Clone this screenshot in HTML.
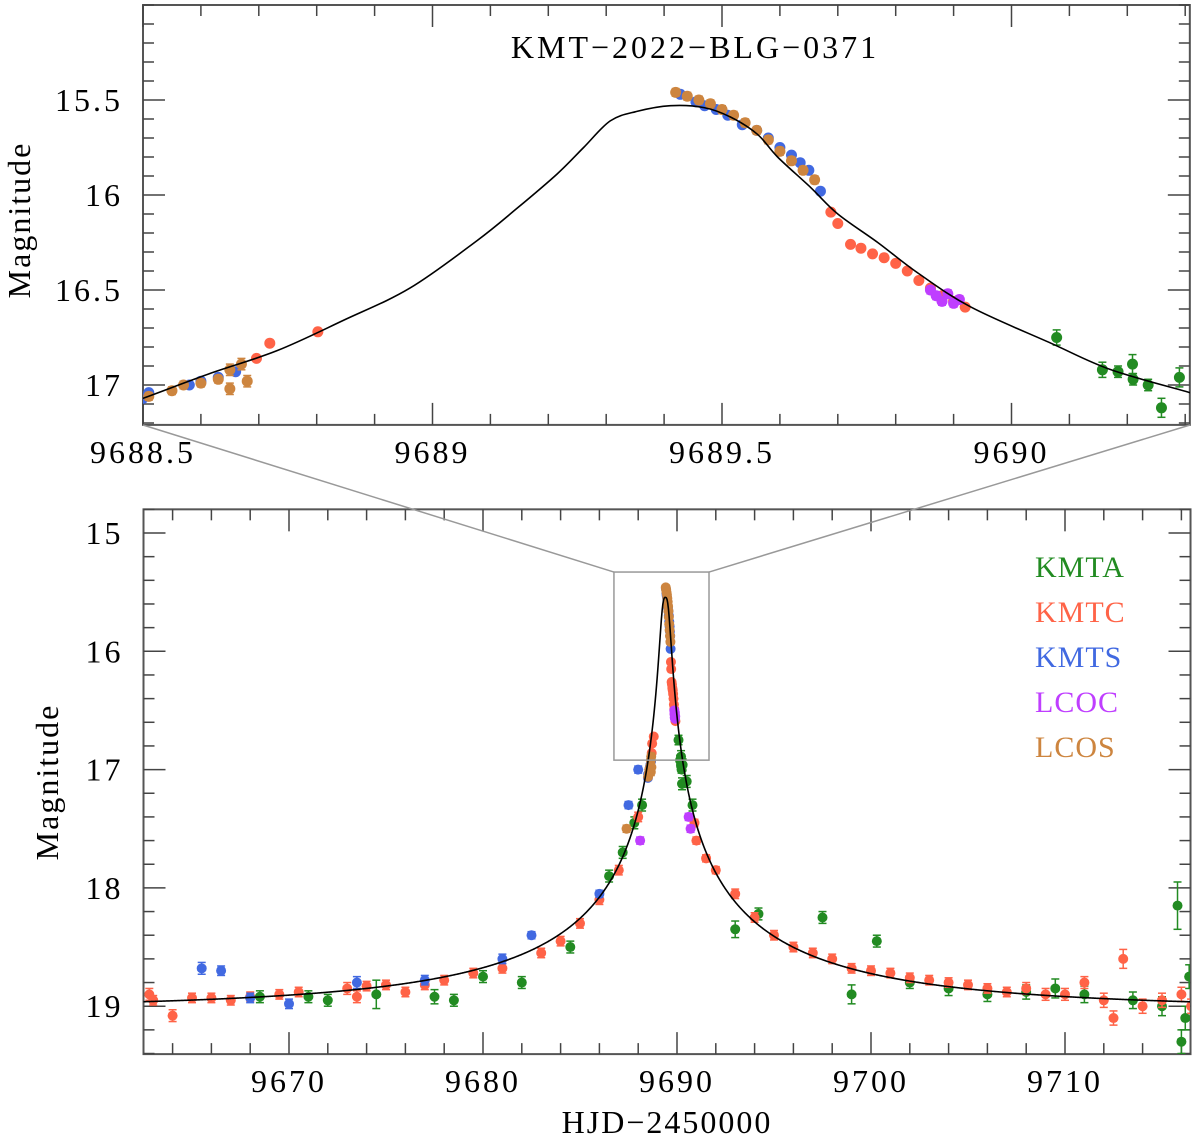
<!DOCTYPE html>
<html><head><meta charset="utf-8"><style>
html,body{margin:0;padding:0;background:#fff;}
svg{display:block;font-family:"Liberation Serif","DejaVu Serif",serif;}
</style></head><body>
<svg id="chart" width="1200" height="1140" viewBox="0 0 1200 1140" xmlns="http://www.w3.org/2000/svg">
<defs>
<clipPath id="clipTop"><rect x="143" y="5" width="1047" height="420"/></clipPath>
<clipPath id="clipBot"><rect x="143" y="509" width="1047" height="545"/></clipPath>
</defs>
<g id="top"></g>
<g id="bot"></g>
<text x="695" y="58" font-size="32" letter-spacing="3" text-anchor="middle">KMT−2022−BLG−0371</text>
<text transform="translate(30,220) rotate(-90)" font-size="32" letter-spacing="2" text-anchor="middle">Magnitude</text>
<text transform="translate(58,782) rotate(-90)" font-size="32" letter-spacing="2" text-anchor="middle">Magnitude</text>
<text x="667" y="1133" font-size="32" letter-spacing="2" text-anchor="middle">HJD−2450000</text>
</svg>
<script>
// model parameters (full view): t0, tE, rho, fs, baseline
const modelParams=[9689.40,22,0.0105,0.25,19.02];
// model curve samples
const topModelT=[9688.45,9688.5,9688.615,9688.731,9688.846,9688.961,9689.077,9689.146,9689.215,9689.261,9689.307,9689.353,9689.411,9689.469,9689.515,9689.561,9689.596,9689.653,9689.700,9689.769,9689.838,9689.930,9690.068,9690.172,9690.308,9690.36];
const topModelM=[17.12,17.07,16.94,16.82,16.66,16.49,16.24,16.07,15.89,15.75,15.61,15.56,15.53,15.54,15.59,15.68,15.80,15.96,16.10,16.25,16.41,16.59,16.78,16.92,17.04,17.09];
const KMTA=[[9668.5,18.92,0.05],[9671,18.92,0.05],[9672,18.95,0.05],[9674.5,18.9,0.12],[9677.5,18.92,0.06],[9678.5,18.95,0.05],[9680,18.75,0.05],[9682,18.8,0.05],[9684.5,18.5,0.05],[9686.5,17.9,0.05],[9687.2,17.7,0.05],[9687.8,17.45,0.05],[9688.2,17.3,0.05],
[9690.078,16.75,0.04],[9690.157,16.92,0.04],[9690.184,16.93,0.03],[9690.209,16.89,0.05],[9690.21,16.97,0.03],[9690.236,17.0,0.03],[9690.259,17.12,0.05],[9690.29,16.96,0.05],[9690.5,17.1,0.05],[9690.8,17.3,0.05],
[9693,18.35,0.07],[9694.2,18.22,0.05],[9697.5,18.25,0.05],[9699,18.9,0.08],[9700.3,18.45,0.05],[9702,18.8,0.05],[9704,18.85,0.06],[9706,18.9,0.06],[9708,18.88,0.06],[9709.5,18.85,0.08],[9711,18.9,0.07],[9713.5,18.95,0.07],[9715,19.0,0.08],[9715.8,18.15,0.2],[9716,19.3,0.1],[9716.2,19.1,0.1],[9716.4,18.75,0.1]];
const KMTC=[[9662.8,18.9,0.05],[9663,18.95,0.04],[9664,19.08,0.05],[9665,18.93,0.04],[9666,18.93,0.04],[9667,18.95,0.04],[9668,18.92,0.04],[9669.5,18.9,0.04],[9670.5,18.88,0.04],[9673,18.85,0.05],[9673.5,18.92,0.05],[9674,18.83,0.04],[9675,18.82,0.04],[9676,18.88,0.04],[9677,18.82,0.04],[9678,18.78,0.04],[9679.5,18.72,0.04],[9681,18.68,0.04],[9683,18.55,0.04],[9684,18.45,0.04],[9685,18.3,0.04],[9686,18.1,0.04],[9687,17.85,0.04],[9688,17.4,0.04],
[9688.696,16.86,0.01],[9688.719,16.78,0.01],[9688.802,16.72,0.01],[9689.688,16.09,0.01],[9689.7,16.15,0.01],[9689.722,16.26,0.01],[9689.74,16.28,0.01],[9689.76,16.31,0.01],[9689.78,16.33,0.01],[9689.8,16.36,0.01],[9689.82,16.4,0.01],[9689.84,16.45,0.01],[9689.86,16.49,0.01],[9689.88,16.53,0.01],[9689.9,16.56,0.01],[9689.92,16.59,0.01],
[9690.9,17.45,0.03],[9691,17.6,0.03],[9691.5,17.75,0.03],[9692,17.85,0.03],[9693,18.05,0.04],[9694,18.25,0.04],[9695,18.4,0.04],[9696,18.5,0.04],[9697,18.55,0.04],[9698,18.6,0.04],[9699,18.68,0.04],[9700,18.7,0.04],[9701,18.72,0.04],[9702,18.76,0.04],[9703,18.78,0.04],[9704,18.8,0.04],[9705,18.82,0.04],[9706,18.85,0.04],[9707,18.88,0.04],[9708,18.85,0.05],[9709,18.9,0.05],[9710,18.9,0.05],[9711,18.8,0.05],[9712,18.95,0.06],[9712.5,19.1,0.06],[9713,18.6,0.08],[9714,19.0,0.06],[9715,18.95,0.06],[9716,18.9,0.06],[9716.5,19.0,0.06]];
const KMTS=[[9665.5,18.68,0.05],[9666.5,18.7,0.04],[9668,18.93,0.04],[9670,18.98,0.04],[9673.5,18.8,0.05],[9677,18.78,0.04],[9681,18.6,0.04],[9682.5,18.4,0.03],[9686,18.05,0.03],[9687.5,17.3,0.03],[9688,17.0,0.03],
[9688.5,17.07,0.01],[9688.51,17.04,0.01],[9688.58,17.0,0.01],[9688.6,16.98,0.01],[9688.63,16.96,0.01],[9688.66,16.93,0.01],
[9689.428,15.47,0.01],[9689.455,15.51,0.01],[9689.47,15.53,0.01],[9689.49,15.55,0.01],[9689.51,15.58,0.01],[9689.535,15.63,0.01],[9689.56,15.66,0.01],[9689.58,15.7,0.01],[9689.6,15.75,0.01],[9689.62,15.79,0.01],[9689.635,15.83,0.01],[9689.65,15.87,0.01],[9689.67,15.98,0.01]];
const LCOC=[[9688.1,17.6,0.03],[9689.86,16.5,0.02],[9689.87,16.53,0.02],[9689.88,16.56,0.02],[9689.89,16.52,0.02],[9689.9,16.57,0.02],[9689.91,16.55,0.02],[9690.6,17.4,0.03],[9690.7,17.5,0.03]];
const LCOS=[[9687.4,17.5,0.03],[9688.51,17.06,0.02],[9688.55,17.03,0.02],[9688.57,17.0,0.02],[9688.6,16.99,0.02],[9688.63,16.97,0.02],[9688.65,16.92,0.03],[9688.65,17.02,0.03],[9688.67,16.89,0.03],[9688.68,16.98,0.03],
[9689.42,15.46,0.02],[9689.44,15.48,0.02],[9689.46,15.5,0.02],[9689.48,15.52,0.02],[9689.5,15.55,0.02],[9689.52,15.58,0.02],[9689.54,15.62,0.02],[9689.56,15.66,0.02],[9689.58,15.71,0.02],[9689.6,15.77,0.02],[9689.62,15.82,0.02],[9689.64,15.87,0.02],[9689.66,15.92,0.02]];
const seriesNames=["KMTA","KMTC","KMTS","LCOC","LCOS"];
const seriesColors=["#228B22","#FF6347","#4169E1","#BF3EFF","#CD853F"];
const topXTicks=[9688.5,9689,9689.5,9690];
const topYTicks=[15.5,16,16.5,17];
const botXTicks=[9670,9680,9690,9700,9710];
const botYTicks=[15,16,17,18,19];

const NS="http://www.w3.org/2000/svg";
function mk(tag,attrs,parent){const e=document.createElementNS(NS,tag);for(const k in attrs)e.setAttribute(k,attrs[k]);parent.appendChild(e);return e;}
const xT=t=>143+(t-9688.5)*579, yT=m=>100+(m-15.5)*190;
const xB=t=>289+(t-9670)*19.4, yB=m=>533+(m-15)*118.3;
function model(t){const [t0,tE,rho,fs,base]=modelParams;const tau=Math.abs((t-t0)/tE);const u=Math.cbrt(tau*tau*tau+rho*rho*rho);const A=(u*u+2)/(u*Math.sqrt(u*u+4));return base-2.5*Math.log10(fs*(A-1)+1);}
function smoothPath(pts){let d='M'+pts[0][0].toFixed(2)+','+pts[0][1].toFixed(2);
  for(let i=0;i<pts.length-1;i++){const p0=pts[Math.max(0,i-1)],p1=pts[i],p2=pts[i+1],p3=pts[Math.min(pts.length-1,i+2)];
    const c1=[p1[0]+(p2[0]-p0[0])/6,p1[1]+(p2[1]-p0[1])/6],c2=[p2[0]-(p3[0]-p1[0])/6,p2[1]-(p3[1]-p1[1])/6];
    d+='C'+c1[0].toFixed(2)+','+c1[1].toFixed(2)+' '+c2[0].toFixed(2)+','+c2[1].toFixed(2)+' '+p2[0].toFixed(2)+','+p2[1].toFixed(2);}
  return d;}

function panel(g,X,Y,x0,x1,y0,y1,xt,xmin,ymin,yt,clip,rs,useSamples){
  const fr=mk('rect',{x:X(x0),y:Y(y0),width:X(x1)-X(x0),height:Y(y1)-Y(y0),fill:'none',stroke:'#555','stroke-width':2},g);
  
  const tk=mk('g',{stroke:'#444','stroke-width':1.5},g);
  
  const top=Y(y0),bot=Y(y1),lft=X(x0),rgt=X(x1);
  for(let v=Math.ceil(x0/xmin-1e-6)*xmin;v<=x1+1e-9;v+=xmin){const isM=xt.some(a=>Math.abs(a-v)<1e-6);const L=isM?22:11;const x=X(v);
    mk('line',{x1:x,x2:x,y1:bot,y2:bot-L},tk);mk('line',{x1:x,x2:x,y1:top,y2:top+L},tk);}
  for(let v=Math.ceil(y0/ymin-1e-6)*ymin;v<=y1+1e-9;v+=ymin){const isM=yt.some(a=>Math.abs(a-v)<1e-6);const L=isM?22:11;const y=Y(v);
    mk('line',{x1:lft,x2:lft+L,y1:y,y2:y},tk);mk('line',{x1:rgt,x2:rgt-L,y1:y,y2:y},tk);}
  xt.forEach(v=>{const t=mk('text',{x:X(v),y:bot+38,'font-size':32,'letter-spacing':3,'text-anchor':'middle'},g);t.textContent=String(v);
    });
  yt.forEach(v=>{const t=mk('text',{x:lft-20,y:Y(v)+11,'font-size':32,'letter-spacing':3,'text-anchor':'end'},g);t.textContent=String(v);
    });
  const dg=mk('g',{'clip-path':'url(#'+clip+')'},g);
  
  [KMTA,KMTC,KMTS,LCOC,LCOS].forEach((ds,i)=>{
    const sg=mk('g',{fill:seriesColors[i],stroke:seriesColors[i]},dg);
    
    
    ds.forEach(p=>{const x=X(p[0]),y=Y(p[1]),ya=Y(p[1]-p[2]),yb=Y(p[1]+p[2]);
      mk('line',{x1:x,x2:x,y1:ya,y2:yb,'stroke-width':1.5},sg);
      mk('line',{x1:x-4,x2:x+4,y1:ya,y2:ya,'stroke-width':1.5},sg);
      mk('line',{x1:x-4,x2:x+4,y1:yb,y2:yb,'stroke-width':1.5},sg);
      const c=mk('circle',{cx:x,cy:y,r:rs,stroke:'none'},sg);
      
      
    });
  });
  let d;
  if(useSamples){d=smoothPath(topModelT.map((t,i)=>[X(t),Y(topModelM[i])]));}
  else{d='';const N=1500;for(let i=0;i<=N;i++){const t=x0+(x1-x0)*i/N;d+=(i?'L':'M')+X(t).toFixed(2)+','+Y(model(t)).toFixed(2);}}
  const ml=mk('path',{d:d,fill:'none',stroke:'#000','stroke-width':1.6},dg);
  
}
const topG=document.getElementById('top'),botG=document.getElementById('bot');
panel(topG,xT,yT,9688.5,9690.308,15.0,17.21,topXTicks,0.1,0.1,topYTicks,'clipTop',5.5,true);
panel(botG,xB,yB,9662.5,9716.47,14.8,19.405,botXTicks,2,0.2,botYTicks,'clipBot',5,false);
const svg=document.getElementById('chart');
const zb=mk('rect',{x:xB(9686.75),y:yB(15.33),width:xB(9691.65)-xB(9686.75),height:yB(16.92)-yB(15.33),fill:'none',stroke:'#999','stroke-width':1.5},svg);

const c1=mk('line',{x1:xB(9686.75),y1:yB(15.33),x2:143,y2:425,stroke:'#999','stroke-width':1.5},svg);

const c2=mk('line',{x1:xB(9691.65),y1:yB(15.33),x2:1190,y2:425,stroke:'#999','stroke-width':1.5},svg);

seriesNames.forEach((n,i)=>{const t=mk('text',{x:1035,y:577+i*45,'font-size':30,'letter-spacing':1,fill:seriesColors[i]},svg);t.textContent=n;
  
  });
</script>
</body></html>
